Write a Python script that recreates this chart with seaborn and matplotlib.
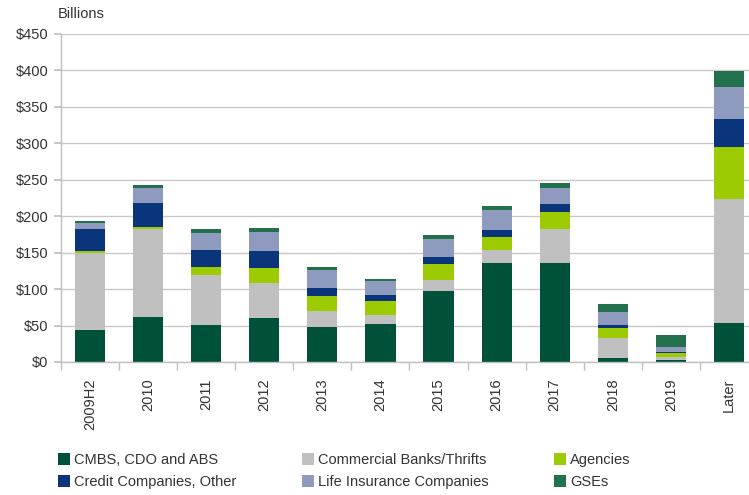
import matplotlib
matplotlib.use("Agg")
import matplotlib.pyplot as plt
import seaborn as sns
import numpy as np
from matplotlib.patches import Patch
from matplotlib.ticker import FuncFormatter, FixedLocator

categories = ["2009H2", "2010", "2011", "2012", "2013", "2014", "2015", "2016", "2017", "2018", "2019", "Later"]
cmbs    = [44, 62, 51, 60, 48, 52, 97, 136, 136, 5.5, 2.7, 53.5]
banks   = [105.5, 120, 68.5, 48, 22, 12.3, 15, 17.8, 46.7, 27.4, 4.1, 170]
agency  = [2.7, 2.7, 11, 20.5, 20.5, 19.2, 22, 17.8, 23.3, 13.7, 5.5, 71.3]
credit  = [30, 34, 23, 23.3, 11, 8.2, 9.6, 9.6, 11, 4.1, 1.4, 38.4]
life    = [8, 20.5, 23.3, 26, 24.7, 19.2, 24.7, 27.4, 22, 17.8, 6.9, 43.9]
gse     = [3, 4, 5.5, 5.5, 4, 2.7, 5.5, 5.5, 6.8, 11, 16.4, 21.9]

series_names = ["CMBS, CDO and ABS", "Commercial Banks/Thrifts", "Agencies",
                "Credit Companies, Other", "Life Insurance Companies", "GSEs"]
series_vals = [cmbs, banks, agency, credit, life, gse]
colors = ["#00513A", "#C0C0C0", "#9BCB00", "#0B357A", "#8E9BBE", "#23704D"]
yticks = [0, 50, 100, 150, 200, 250, 300, 350, 400, 450]

sns.set_theme(style="white")
plt.rcParams["font.family"] = ["Liberation Sans", "DejaVu Sans"]

fig = plt.figure(figsize=(7.49, 4.95), dpi=100)
ax = fig.add_axes([61/749, (495-362)/495, (758-61)/749, (362-34)/495])

bottom = np.zeros(len(categories))
for name, vals, c in zip(series_names, series_vals, colors):
    sns.barplot(x=categories, y=vals, bottom=bottom, color=c, width=0.52,
                ax=ax, saturation=1, linewidth=0, order=categories)
    bottom = bottom + np.array(vals)

ax.set_ylim(0, 450)
ax.set_xlim(-0.5, len(categories) - 0.5)
ax.set_yticks(yticks)
ax.yaxis.set_major_formatter(FuncFormatter(lambda v, p: f"${int(v)}"))
ax.set_axisbelow(True)
ax.yaxis.grid(True, color="#C8C8C8", linewidth=1.0)
ax.xaxis.grid(False)
for s in ["top", "right"]:
    ax.spines[s].set_visible(False)
for s in ["left", "bottom"]:
    ax.spines[s].set_color("#BFBFBF")
    ax.spines[s].set_linewidth(1.0)

ax.tick_params(axis="y", which="major", left=True, length=5, color="#BFBFBF",
               labelsize=10.5, labelcolor="#333333", pad=4)
ax.tick_params(axis="x", which="major", bottom=False, labelsize=10.5,
               labelcolor="#333333", labelrotation=90, pad=6)
ax.xaxis.set_minor_locator(FixedLocator(np.arange(-0.5, len(categories), 1.0)))
ax.tick_params(axis="x", which="minor", bottom=True, length=6, color="#BFBFBF", width=1)
ax.set_xlabel("")
ax.set_ylabel("")

fig.text(58/749, 1 - 14/495, "Billions", fontsize=10.5, color="#333333",
         ha="left", va="center")

order = [0, 3, 1, 4, 2, 5]
handles = [Patch(facecolor=colors[i], edgecolor="none") for i in order]
labels = [series_names[i] for i in order]
fig.legend(handles, labels, ncol=3, loc="center left",
           bbox_to_anchor=(45/749, 1 - 471/495), frameon=False,
           fontsize=10.5, handlelength=0.8, handleheight=0.8,
           handletextpad=0.3, columnspacing=4.5, labelspacing=0.55,
           labelcolor="#333333")

fig.savefig("out.png", dpi=100)
